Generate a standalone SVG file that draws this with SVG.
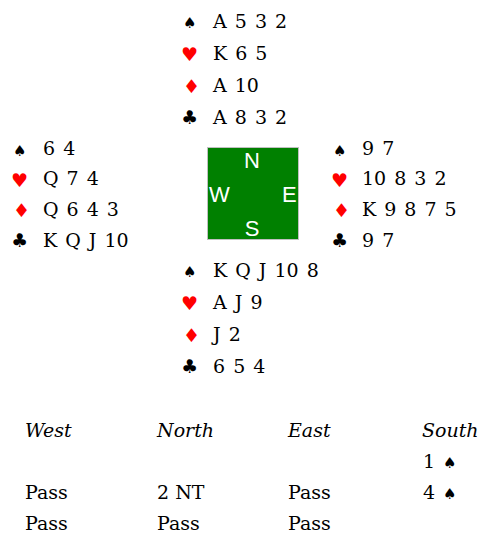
<svg xmlns="http://www.w3.org/2000/svg" width="483" height="533" viewBox="0 0 483 533">
<style>
.c{font-family:"DejaVu Serif",serif;font-size:19px;fill:#000;word-spacing:2px}
.s{font-family:"DejaVu Sans",sans-serif;font-size:19px}
.sp{font-size:15px}
.k{fill:#000}
.r{fill:#ff0000}
.d{font-family:"Liberation Sans",sans-serif;font-size:22px;fill:#fff}
.h{font-family:"DejaVu Serif",serif;font-size:19px;font-style:italic;fill:#000}
.a{font-family:"DejaVu Serif",serif;font-size:19px;fill:#000}
</style>
<rect width="483" height="533" fill="#fff"/>
<g id="north">
<text class="s sp k" x="183" y="28">♠</text><text class="c" x="213" y="28">A 5 3 2</text>
<text class="s r" x="181" y="61">♥</text><text class="c" x="213" y="60">K 6 5</text>
<text class="s r" x="183" y="93">♦</text><text class="c" x="213" y="92">A 10</text>
<text class="s k" x="181" y="124">♣</text><text class="c" x="213" y="124">A 8 3 2</text>
</g>
<g id="west">
<text class="s sp k" x="13" y="156">♠</text><text class="c" x="43" y="155">6 4</text>
<text class="s r" x="11" y="187">♥</text><text class="c" x="43" y="185">Q 7 4</text>
<text class="s r" x="13" y="217">♦</text><text class="c" x="43" y="216">Q 6 4 3</text>
<text class="s k" x="11" y="247">♣</text><text class="c" x="43" y="247">K Q J 10</text>
</g>
<g id="east">
<text class="s sp k" x="333" y="156">♠</text><text class="c" x="362" y="155">9 7</text>
<text class="s r" x="331" y="187">♥</text><text class="c" x="362" y="185">10 8 3 2</text>
<text class="s r" x="333" y="217">♦</text><text class="c" x="362" y="216">K 9 8 7 5</text>
<text class="s k" x="331" y="247">♣</text><text class="c" x="362" y="247">9 7</text>
</g>
<g id="south">
<text class="s sp k" x="183" y="277">♠</text><text class="c" x="213" y="277">K Q J 10 8</text>
<text class="s r" x="181" y="310">♥</text><text class="c" x="213" y="309">A J 9</text>
<text class="s r" x="183" y="342">♦</text><text class="c" x="213" y="341">J 2</text>
<text class="s k" x="181" y="373">♣</text><text class="c" x="213" y="373">6 5 4</text>
</g>
<g id="table">
<rect x="207.5" y="147.5" width="91" height="92" fill="#008000" stroke="#c0c0c0" stroke-width="1"/>
<text class="d" x="252" y="168" text-anchor="middle">N</text>
<text class="d" x="209" y="202">W</text>
<text class="d" x="282" y="202">E</text>
<text class="d" x="252" y="236" text-anchor="middle">S</text>
</g>
<g id="auction">
<text class="h" x="25" y="437">West</text>
<text class="h" x="157" y="437">North</text>
<text class="h" x="288" y="437">East</text>
<text class="h" x="422" y="437">South</text>
<text class="a" x="423" y="468">1</text><text class="s sp k" x="443" y="468">♠</text>
<text class="a" x="25" y="499">Pass</text>
<text class="a" x="157" y="499">2 NT</text>
<text class="a" x="288" y="499">Pass</text>
<text class="a" x="423" y="499">4</text><text class="s sp k" x="443" y="499">♠</text>
<text class="a" x="25" y="530">Pass</text>
<text class="a" x="157" y="530">Pass</text>
<text class="a" x="288" y="530">Pass</text>
</g>
</svg>
